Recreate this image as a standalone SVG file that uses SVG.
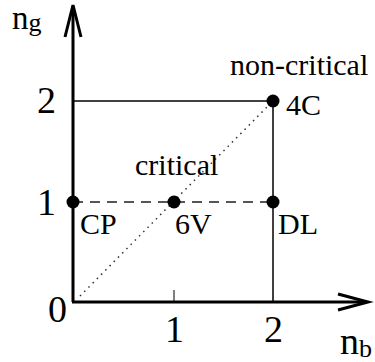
<svg xmlns="http://www.w3.org/2000/svg" width="375" height="362" viewBox="0 0 375 362">
<style>
.lbl{font-size:30px}
.num{font-size:38px}
.axis{stroke:#000;stroke-width:3;fill:none}
.thin{stroke:#000;stroke-width:1.5;fill:none}
.dash{stroke:#555;stroke-width:1.8;stroke-dasharray:10 7;fill:none}
.dot{stroke:#333;stroke-width:1.5;stroke-dasharray:1.5 4.5;fill:none}
.pt{fill:#000}
</style>
<rect width="375" height="362" fill="#fff"/>
<g id="connectors">
<line class="thin" x1="73" y1="101" x2="273" y2="101"/>
<line class="thin" x1="273" y1="101" x2="273" y2="302"/>
<line class="dash" x1="73" y1="202" x2="273" y2="202"/>
<line class="dot" x1="80" y1="296" x2="269" y2="105"/>
<line stroke="#555" stroke-width="1.5" x1="174" y1="290" x2="174" y2="302"/>
</g>
<g font-family="Liberation Serif, DejaVu Serif, serif" fill="#000">
<g id="axes">
<line class="axis" x1="73" y1="302" x2="73" y2="6"/>
<line class="axis" x1="72" y1="302" x2="366" y2="302"/>
<polyline class="axis" points="65,37 73,5 81,37"/>
<polyline class="axis" points="338,294 368,302 338,310"/>
<text x="12" y="29" font-size="33">n<tspan font-size="26" dy="2">g</tspan></text>
<text x="340" y="354" font-size="38">n<tspan font-size="26" dy="3">b</tspan></text>
<text class="num" x="37" y="113">2</text>
<text class="num" x="37" y="215">1</text>
<text class="num" x="48" y="322">0</text>
<text class="num" x="165" y="342">1</text>
<text class="num" x="264" y="342">2</text>
</g>
<g id="CP"><circle class="pt" cx="73" cy="202" r="6.5"/><text class="lbl" x="80" y="234">CP</text></g>
<g id="6V"><circle class="pt" cx="174" cy="202" r="6.5"/><text class="lbl" x="175" y="234">6V</text></g>
<g id="DL"><circle class="pt" cx="273" cy="202" r="6.5"/><text class="lbl" x="278" y="234">DL</text></g>
<g id="4C"><circle class="pt" cx="273" cy="101" r="6.5"/><text class="lbl" x="286" y="115">4C</text></g>
<g id="critical"><text class="lbl" x="135" y="175">critical</text></g>
<g id="non-critical"><text class="lbl" x="230" y="75">non-critical</text></g>
</g>
</svg>
